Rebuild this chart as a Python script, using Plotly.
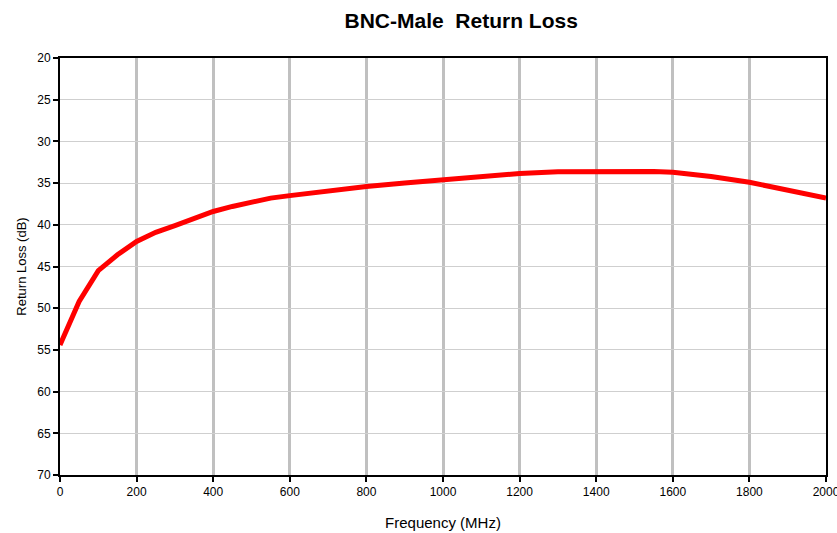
import plotly.graph_objects as go

freq_mhz = [0, 50, 100, 150, 200, 250, 300, 350, 400, 450, 500, 550, 600, 700, 800,
            900, 1000, 1100, 1200, 1300, 1400, 1550, 1600, 1700, 1800, 1900, 2000]
return_loss_db = [54.4, 49.2, 45.5, 43.6, 42.0, 40.9, 40.1, 39.2, 38.4, 37.8, 37.3, 36.8, 36.5,
                  35.9, 35.4, 35.0, 34.6, 34.2, 33.85, 33.65, 33.6, 33.6, 33.7, 34.2, 34.9, 35.8, 36.8]

x_ticks = list(range(0, 2001, 200))
y_ticks = list(range(20, 71, 5))

FONT = "Liberation Sans, Arial, sans-serif"

fig = go.Figure()
fig.add_trace(go.Scatter(
    x=freq_mhz, y=return_loss_db, mode="lines",
    line=dict(color="#FF0000", width=5),
    showlegend=False, hoverinfo="skip",
))

fig.update_layout(
    width=837, height=533,
    margin=dict(l=60, r=11, t=58, b=58, autoexpand=False),
    paper_bgcolor="white", plot_bgcolor="white",
    font=dict(family=FONT, color="black", size=12),
    title=dict(text="<b>BNC-Male\u00a0 Return Loss</b>", x=0.551, xanchor="center",
               y=0.962, yanchor="middle", yref="container",
               font=dict(family=FONT, size=21, color="black")),
)

fig.update_xaxes(
    range=[0, 2000], tickvals=x_ticks, ticktext=[str(v) for v in x_ticks],
    showgrid=True, gridcolor="#C0C0C0", gridwidth=3,
    showline=True, linecolor="black", linewidth=2, mirror=True,
    ticks="outside", ticklen=5, tickcolor="black", tickwidth=1.5,
    tickfont=dict(size=12, family=FONT), automargin=False, ticklabeloverflow="allow",
    title=dict(text="Frequency (MHz)", font=dict(size=15, family=FONT), standoff=19),
    zeroline=False,
)
fig.update_yaxes(
    range=[70, 20], tickvals=y_ticks, ticktext=[str(v) for v in y_ticks],
    showgrid=True, gridcolor="#CFCFCF", gridwidth=1.2,
    showline=True, linecolor="black", linewidth=2, mirror=True,
    ticks="outside", ticklen=5, tickcolor="black", tickwidth=1.5,
    tickfont=dict(size=12, family=FONT), automargin=False,
    title=dict(text="Return Loss (dB)", font=dict(size=13, family=FONT), standoff=8),
    zeroline=False,
)

fig.write_html(
    "out.html",
    config={"displayModeBar": False},
    post_script="document.body.style.margin='0';document.body.style.overflow='hidden';",
)
